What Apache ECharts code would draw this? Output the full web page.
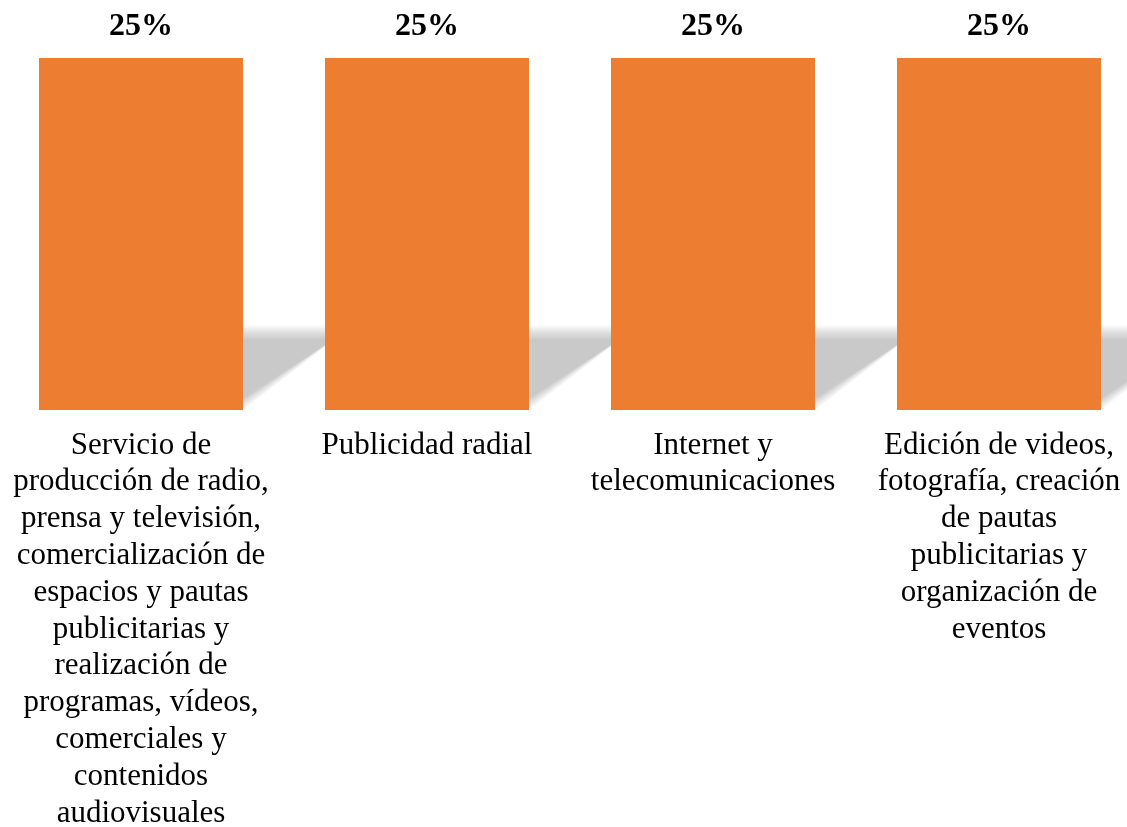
<!DOCTYPE html>
<html>
<head>
<meta charset="utf-8">
<script src="https://cdn.jsdelivr.net/npm/echarts@6/dist/echarts.min.js"></script>
<style>
  html, body { margin: 0; padding: 0; background: #fff; }
  #chart { width: 1127px; height: 827px; }
</style>
</head>
<body>
<div id="chart"></div>
<script>
const categories = [
  "Servicio de\nproducción de radio,\nprensa y televisión,\ncomercialización de\nespacios y pautas\npublicitarias y\nrealización de\nprogramas, vídeos,\ncomerciales y\ncontenidos\naudiovisuales",
  "Publicidad radial",
  "Internet y\ntelecomunicaciones",
  "Edición de videos,\nfotografía, creación\nde pautas\npublicitarias y\norganización de\neventos"
];
const percentages = [25, 25, 25, 25];

const chart = echarts.init(document.getElementById("chart"));

// soft perspective shadow behind each bar (stacked translucent layers fake the blur)
function renderShadow(params, api) {
  const idx = api.value(0);
  const base = api.coord([idx, 0]);
  const top = api.coord([idx, api.value(1)]);
  const h = base[1] - top[1];
  const half = api.size([1, 0])[0] * 0.357;
  const sh = h * 0.24;
  const dx = h * 0.31;
  const xL = base[0] - half;
  const xR = base[0] + half;
  const y0 = base[1];
  const layers = [];
  for (let k = 0; k < 7; k++) {
    const t = k * 2.2;
    layers.push({
      type: "polygon",
      shape: {
        points: [
          [xL, y0],
          [xR - t * 1.3, y0],
          [xR + dx - t * 1.3, y0 - sh + t],
          [xL + dx, y0 - sh + t]
        ]
      },
      style: { fill: "rgba(0,0,0,0.034)" }
    });
  }
  return { type: "group", children: layers };
}

const options = {
  animation: false,
  grid: { left: -2, width: 1144, top: 58, bottom: 417, outerBoundsMode: "none", containLabel: false },
  xAxis: {
    type: "category",
    data: categories,
    axisLine: { show: false },
    axisTick: { show: false },
    axisLabel: {
      interval: 0,
      margin: 17,
      color: "#000",
      fontFamily: "Liberation Serif",
      fontSize: 31,
      lineHeight: 36.8,
      align: "center",
      verticalAlign: "top"
    }
  },
  yAxis: {
    type: "value",
    min: 0,
    max: 25,
    show: false,
    splitLine: { show: false }
  },
  series: [
    {
      type: "custom",
      renderItem: renderShadow,
      data: percentages.map((v, i) => [i, v]),
      z: 1,
      silent: true
    },
    {
      type: "bar",
      data: percentages,
      barWidth: 204,
      z: 2,
      itemStyle: { color: "#ED7D31" },
      label: {
        show: true,
        position: "top",
        distance: 15,
        formatter: "{c}%",
        color: "#000",
        fontFamily: "Liberation Serif",
        fontWeight: "bold",
        fontSize: 32
      }
    }
  ]
};

chart.setOption(options);
</script>
</body>
</html>
